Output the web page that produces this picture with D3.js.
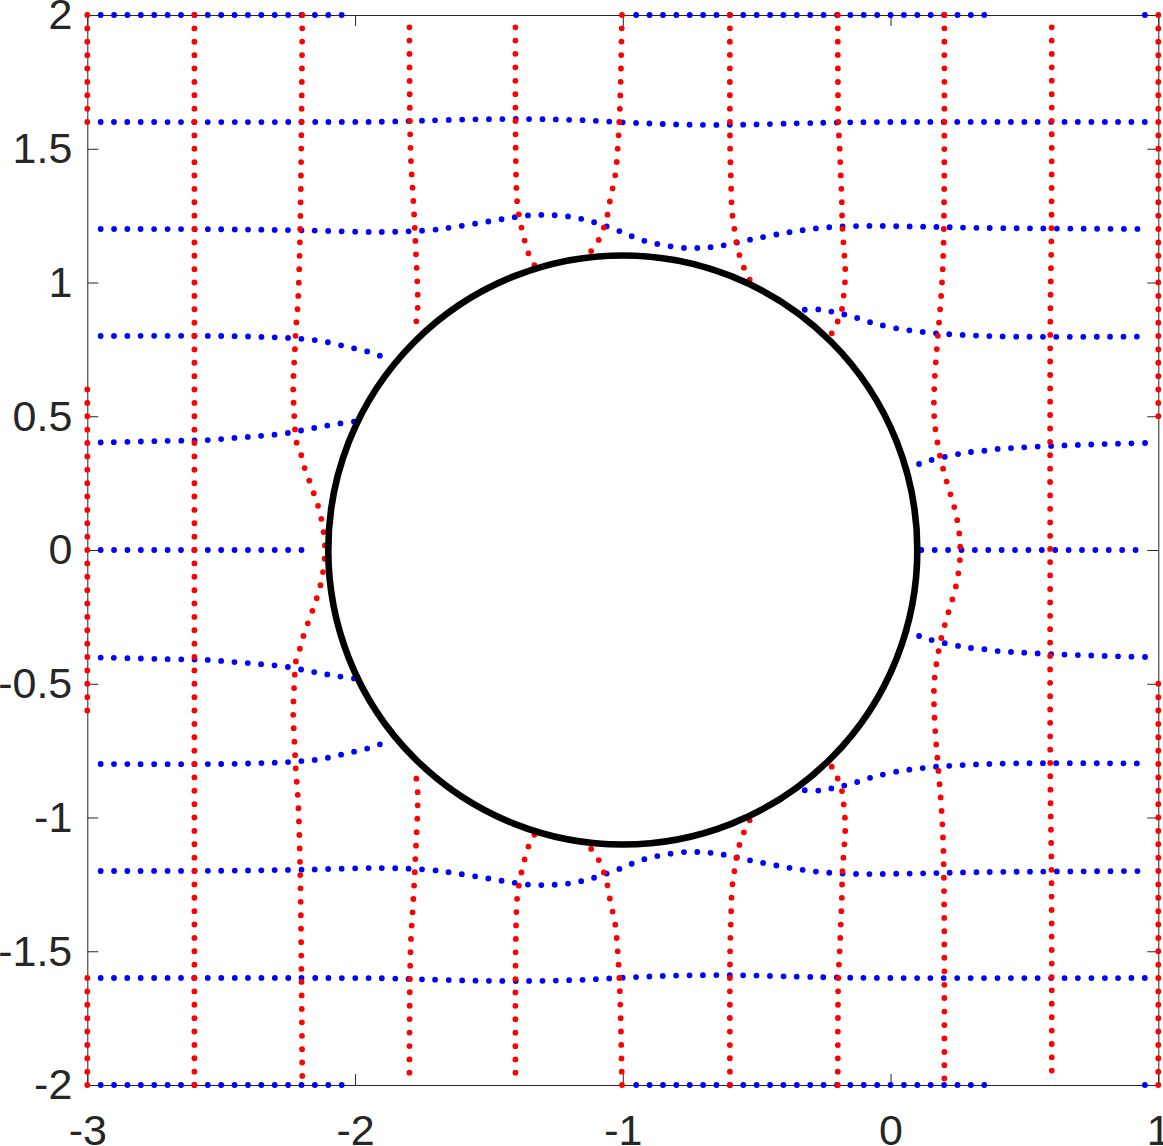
<!DOCTYPE html>
<html>
<head>
<meta charset="utf-8">
<script src="https://cdn.jsdelivr.net/npm/d3@7"></script>
<style>
  body { margin: 0; background: #fff; }
  svg { display: block; }
</style>
</head>
<body>
<svg id="chart" width="1163" height="1146"></svg>
<script>
// Tick values.
const xTicks = [-3, -2, -1, 0, 1];
const yTicks = [-2, -1.5, -1, -0.5, 0, 0.5, 1, 1.5, 2];

// Circle (centre x, centre y, radius).
const circle = [-1, 0, 1.1];

// Horizontal grid lines (blue), each a list of visible segments of [x, y] points.
const blue_p20 = [[[-2.95, 2], [-2.048, 2]], [[-0.95, 2], [0.352, 2]], [[0.95, 2], [0.951, 2]]];
const blue_p16 = [[[-2.95, 1.6], [-2.2, 1.6], [-1.9, 1.601], [-1.75, 1.605], [-1.55, 1.61], [-1.35, 1.611], [-1.16, 1.607], [-0.96, 1.597], [-0.76, 1.59], [-0.55, 1.59], [-0.35, 1.595], [-0.2, 1.598], [0, 1.6], [0.952, 1.6]]];
const blue_p12 = [[[-2.95, 1.2], [-2.5, 1.199], [-2.2, 1.195], [-1.9, 1.189], [-1.72, 1.196], [-1.62, 1.209], [-1.52, 1.225], [-1.43, 1.24], [-1.35, 1.251], [-1.27, 1.252], [-1.19, 1.245], [-1.11, 1.226], [-1.02, 1.195], [-0.92, 1.156], [-0.78, 1.13], [-0.7, 1.13], [-0.64, 1.136], [-0.52, 1.161], [-0.39, 1.186], [-0.27, 1.203], [-0.13, 1.211], [0.1, 1.209], [0.35, 1.204], [0.952, 1.2]]];
const blue_p08 = [
  [[-2.95, 0.8], [-2.5, 0.8], [-2.3, 0.795], [-2.22, 0.791], [-2.13, 0.782], [-2.03, 0.76], [-1.94, 0.738], [-1.87, 0.712]],
  [[-0.37, 0.893], [-0.28, 0.9], [-0.22, 0.891], [-0.15, 0.875], [-0.07, 0.85], [0.02, 0.829], [0.13, 0.814], [0.23, 0.806], [0.44, 0.798], [0.952, 0.798]]
];
const blue_p04 = [
  [[-2.95, 0.402], [-2.7, 0.408], [-2.55, 0.411], [-2.45, 0.419], [-2.36, 0.426], [-2.26, 0.436], [-2.18, 0.451], [-2.11, 0.464], [-2.05, 0.474], [-1.99, 0.482]],
  [[0.06, 0.302], [0.13, 0.33], [0.24, 0.356], [0.29, 0.365], [0.35, 0.371], [0.4, 0.378], [0.45, 0.381], [0.6, 0.389], [0.8, 0.396], [0.952, 0.4]]
];
const blue_p00 = [[[-2.95, 0], [-2.18, 0]], [[0.115, 0], [0.952, 0]]];
const blue_m04 = [
  [[-2.95, -0.402], [-2.7, -0.408], [-2.55, -0.411], [-2.45, -0.419], [-2.36, -0.426], [-2.26, -0.436], [-2.18, -0.451], [-2.11, -0.464], [-2.05, -0.474], [-1.99, -0.482]],
  [[0.06, -0.302], [0.13, -0.33], [0.24, -0.356], [0.29, -0.365], [0.35, -0.371], [0.4, -0.378], [0.45, -0.381], [0.6, -0.389], [0.8, -0.396], [0.952, -0.4]]
];
const blue_m08 = [
  [[-2.95, -0.8], [-2.5, -0.8], [-2.3, -0.795], [-2.22, -0.791], [-2.13, -0.782], [-2.03, -0.76], [-1.94, -0.738], [-1.87, -0.712]],
  [[-0.37, -0.893], [-0.28, -0.9], [-0.22, -0.891], [-0.15, -0.875], [-0.07, -0.85], [0.02, -0.829], [0.13, -0.814], [0.23, -0.806], [0.44, -0.798], [0.952, -0.798]]
];
const blue_m12 = [[[-2.95, -1.2], [-2.5, -1.199], [-2.2, -1.195], [-1.9, -1.189], [-1.72, -1.196], [-1.62, -1.209], [-1.52, -1.225], [-1.43, -1.24], [-1.35, -1.251], [-1.27, -1.252], [-1.19, -1.245], [-1.11, -1.226], [-1.02, -1.195], [-0.92, -1.156], [-0.78, -1.13], [-0.7, -1.13], [-0.64, -1.136], [-0.52, -1.161], [-0.39, -1.186], [-0.27, -1.203], [-0.13, -1.211], [0.1, -1.209], [0.35, -1.204], [0.952, -1.2]]];
const blue_m16 = [[[-2.95, -1.6], [-2.2, -1.6], [-1.9, -1.601], [-1.75, -1.605], [-1.55, -1.61], [-1.35, -1.611], [-1.16, -1.607], [-0.96, -1.597], [-0.76, -1.59], [-0.55, -1.59], [-0.35, -1.595], [-0.2, -1.598], [0, -1.6], [0.952, -1.6]]];
const blue_m20 = [[[-2.95, -2], [-2.048, -2]], [[-0.95, -2], [0.352, -2]], [[0.95, -2], [0.951, -2]]];

// Vertical grid lines (red).
const red_m30 = [[[-3, 2], [-3, 1.598]], [[-3, 0.6], [-3, -0.602]], [[-3, -1.6], [-3, -2.002]]];
const red_m26 = [[[-2.6, 2], [-2.6, -2.002]]];
const red_m22 = [[[-2.197, 2], [-2.2, 1.6], [-2.205, 1.2], [-2.213, 0.93], [-2.22, 0.84], [-2.225, 0.745], [-2.231, 0.61], [-2.228, 0.52], [-2.224, 0.45], [-2.218, 0.4], [-2.202, 0.358], [-2.19, 0.311], [-2.172, 0.262], [-2.153, 0.209], [-2.133, 0.147], [-2.119, 0.077], [-2.112, 0],
  [-2.119, -0.077], [-2.133, -0.147], [-2.153, -0.209], [-2.172, -0.262], [-2.19, -0.311], [-2.202, -0.358], [-2.218, -0.4], [-2.224, -0.45], [-2.228, -0.52], [-2.231, -0.61], [-2.225, -0.745], [-2.22, -0.84], [-2.213, -0.93], [-2.205, -1.2], [-2.2, -1.6], [-2.197, -2.002]]];
const red_m18 = [
  [[-1.797, 1.954], [-1.795, 1.6], [-1.791, 1.45], [-1.785, 1.35], [-1.779, 1.246], [-1.774, 1.136], [-1.766, 0.957], [-1.767, 0.89], [-1.778, 0.81]],
  [[-1.797, -1.954], [-1.795, -1.6], [-1.791, -1.45], [-1.785, -1.35], [-1.779, -1.246], [-1.774, -1.136], [-1.766, -0.957], [-1.767, -0.89], [-1.778, -0.81]]
];
const red_m14 = [
  [[-1.401, 1.954], [-1.401, 1.611], [-1.399, 1.414], [-1.396, 1.321], [-1.393, 1.286], [-1.387, 1.246], [-1.378, 1.203], [-1.369, 1.165], [-1.359, 1.132], [-1.349, 1.099], [-1.334, 1.072], [-1.322, 1.05]],
  [[-1.401, -1.954], [-1.401, -1.611], [-1.399, -1.414], [-1.396, -1.321], [-1.393, -1.286], [-1.387, -1.246], [-1.378, -1.203], [-1.369, -1.165], [-1.359, -1.132], [-1.349, -1.099], [-1.334, -1.072], [-1.322, -1.05]]
];
const red_m10 = [
  [[-1.003, 2], [-1.004, 1.95], [-1.008, 1.751], [-1.013, 1.601], [-1.019, 1.502], [-1.028, 1.402], [-1.038, 1.352], [-1.048, 1.305], [-1.056, 1.259], [-1.069, 1.211], [-1.085, 1.169], [-1.106, 1.132], [-1.128, 1.107], [-1.142, 1.09]],
  [[-1.003, -2], [-1.004, -1.95], [-1.008, -1.751], [-1.013, -1.601], [-1.019, -1.502], [-1.028, -1.402], [-1.038, -1.352], [-1.048, -1.305], [-1.056, -1.259], [-1.069, -1.211], [-1.085, -1.169], [-1.106, -1.132], [-1.128, -1.107], [-1.142, -1.09]]
];
const red_m06 = [
  [[-0.6, 2], [-0.6, 1.6], [-0.599, 1.483], [-0.596, 1.377], [-0.592, 1.265], [-0.584, 1.206], [-0.575, 1.147], [-0.56, 1.088], [-0.537, 1.031], [-0.52, 1.0]],
  [[-0.6, -2], [-0.6, -1.6], [-0.599, -1.483], [-0.596, -1.377], [-0.592, -1.265], [-0.584, -1.206], [-0.575, -1.147], [-0.56, -1.088], [-0.537, -1.031], [-0.52, -1.0]]
];
const red_m02 = [
  [[-0.197, 2], [-0.195, 1.6], [-0.19, 1.5], [-0.186, 1.4], [-0.182, 1.302], [-0.18, 1.209], [-0.173, 1.109], [-0.169, 1.034], [-0.174, 0.96], [-0.185, 0.885], [-0.199, 0.851], [-0.214, 0.82], [-0.232, 0.79]],
  [[-0.197, -2], [-0.195, -1.6], [-0.19, -1.5], [-0.186, -1.4], [-0.182, -1.302], [-0.18, -1.209], [-0.173, -1.109], [-0.169, -1.034], [-0.174, -0.96], [-0.185, -0.885], [-0.199, -0.851], [-0.214, -0.82], [-0.232, -0.79]]
];
const red_p02 = [[[0.201, 2], [0.201, 1.6], [0.2, 1.3], [0.197, 1.11], [0.191, 0.98], [0.182, 0.862], [0.173, 0.756], [0.165, 0.644], [0.162, 0.526], [0.166, 0.464], [0.175, 0.403], [0.186, 0.345], [0.2, 0.29], [0.214, 0.24], [0.228, 0.194], [0.24, 0.152], [0.249, 0.112], [0.255, 0.075], [0.259, 0.037], [0.26, 0],
  [0.259, -0.037], [0.255, -0.075], [0.249, -0.112], [0.24, -0.152], [0.228, -0.194], [0.214, -0.24], [0.2, -0.29], [0.186, -0.345], [0.175, -0.403], [0.166, -0.464], [0.162, -0.526], [0.165, -0.644], [0.173, -0.756], [0.182, -0.862], [0.191, -0.98], [0.197, -1.11], [0.2, -1.3], [0.201, -1.6], [0.201, -2.002]]];
const red_p06 = [[[0.602, 1.954], [0.601, 1.2], [0.597, 0.9], [0.596, 0.6], [0.596, 0], [0.596, -0.6], [0.597, -0.9], [0.601, -1.2], [0.602, -1.954]]];
const red_p10 = [[[1, 2], [1, 0.498]], [[1, -0.5], [1, -2.002]]];

const blueLines = [blue_p20, blue_p16, blue_p12, blue_p08, blue_p04, blue_p00, blue_m04, blue_m08, blue_m12, blue_m16, blue_m20];
const redLines = [red_m30, red_m26, red_m22, red_m18, red_m14, red_m10, red_m06, red_m02, red_p02, red_p06, red_p10];

const width = 1163, height = 1146;
const margin = {top: 15, right: 4.7, bottom: 61, left: 87.3};
const axisColor = '#262626';
const fontFamily = '"Liberation Sans", Arial, Helvetica, sans-serif';

const svg = d3.select('#chart');

const x = d3.scaleLinear().domain([-3, 1]).range([margin.left, width - margin.right]);
const y = d3.scaleLinear().domain([-2, 2]).range([height - margin.bottom, margin.top]);

// Axes box, ticks pointing inward.
const fmt = d => String(d);

function styleAxis(g) {
  g.attr('color', axisColor)
    .attr('font-family', fontFamily)
    .attr('font-size', 43);
  g.selectAll('.tick text').attr('fill', axisColor);
}

svg.append('g')
  .attr('transform', `translate(0,${y(-2)})`)
  .call(d3.axisBottom(x).tickValues(xTicks).tickSizeInner(-11).tickSizeOuter(0).tickPadding(29).tickFormat(fmt))
  .call(styleAxis);

svg.append('g')
  .attr('transform', `translate(0,${y(2)})`)
  .call(d3.axisTop(x).tickValues(xTicks).tickSizeInner(-11).tickSizeOuter(0).tickFormat(''))
  .call(styleAxis);

svg.append('g')
  .attr('transform', `translate(${x(-3)},0)`)
  .call(d3.axisLeft(y).tickValues(yTicks).tickSizeInner(-11).tickSizeOuter(0).tickPadding(15).tickFormat(fmt))
  .call(styleAxis);

svg.append('g')
  .attr('transform', `translate(${x(1)},0)`)
  .call(d3.axisRight(y).tickValues(yTicks).tickSizeInner(-11).tickSizeOuter(0).tickFormat(''))
  .call(styleAxis);

// Dotted lines.
const line = d3.line()
  .x(d => x(d[0]))
  .y(d => y(d[1]))
  .curve(d3.curveCatmullRom.alpha(0.5));

const dotX = x(0.05) - x(0);
const dotY = y(0) - y(0.05);

svg.append('g')
  .selectAll('path')
  .data(blueLines.flat())
  .join('path')
  .attr('d', line)
  .attr('fill', 'none')
  .attr('stroke', '#0000ff')
  .attr('stroke-width', 5.8)
  .attr('stroke-linecap', 'round')
  .attr('stroke-dasharray', `0 ${dotX}`);

svg.append('g')
  .selectAll('path')
  .data(redLines.flat())
  .join('path')
  .attr('d', line)
  .attr('fill', 'none')
  .attr('stroke', '#ff0000')
  .attr('stroke-width', 5.8)
  .attr('stroke-linecap', 'round')
  .attr('stroke-dasharray', `0 ${dotY}`);

// The obstacle.
svg.append('circle')
  .attr('cx', x(circle[0]))
  .attr('cy', y(circle[1]))
  .attr('r', x(circle[0] + circle[2]) - x(circle[0]))
  .attr('fill', '#fff')
  .attr('stroke', '#000')
  .attr('stroke-width', 6.6);
</script>
</body>
</html>
